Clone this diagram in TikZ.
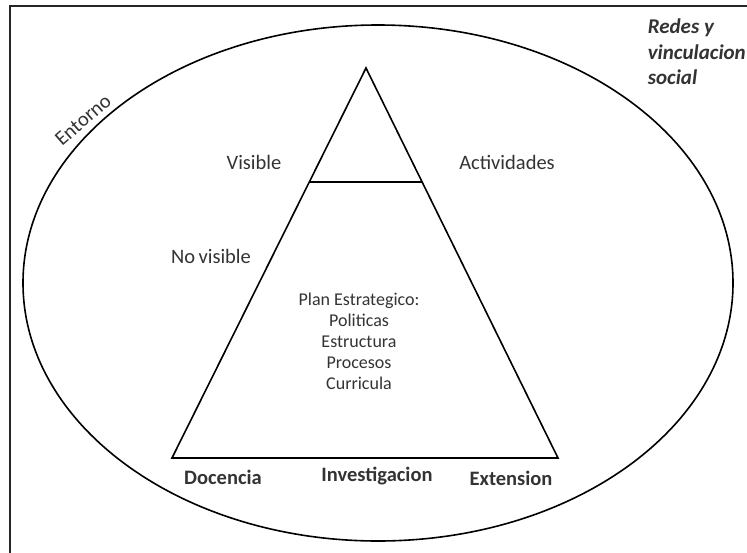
\documentclass[tikz,border=0pt]{standalone}
\usepackage{fontspec}
\setmainfont{Carlito}
\usetikzlibrary{positioning,calc}

\begin{document}
\begin{tikzpicture}[x=1pt, y=-1pt, line width=1.6pt,
	every node/.style={inner sep=0pt, text=black!80},
	label text/.style={font=\fontsize{20.5}{24}\selectfont},
	pillar/.style={font=\fontsize{20.5}{24}\selectfont\bfseries},
	plan text/.style={font=\fontsize{18}{21}\selectfont, align=center}]
\useasboundingbox (0,0) rectangle (747,552);
\clip (0,0) rectangle (747,552);
\draw[line width=2pt, black!85] (10,6) rectangle (780,590);
\draw (378,283) ellipse [x radius=355, y radius=258];
% triangle
\coordinate (apex) at (366,68);
\coordinate (base-left) at (172,458);
\coordinate (base-right) at (558,458);
\draw (apex) -- (base-left) -- (base-right) -- cycle;
\coordinate (cut-left) at ($(apex)!0.2923!(base-left)$);
\coordinate (cut-right) at ($(apex)!0.2923!(base-right)$);
\draw[line width=1.2pt] (cut-left) -- (cut-right);
% labels
\node[label text, rotate=41] 	(entorno)	at (83,120)		{Entorno};
\node[label text]				(visible)	at (254,162)	{Visible};
\node[label text]				(actividades) at (507,162)	{Actividades};
\node[label text]				(novisible)	at (211,256)	{No\,visible};
\node[plan text]				(plan)		at (359,341)	{Plan Estrategico:\\Politicas\\Estructura\\Procesos\\Curricula};
\node[pillar]					(docencia)	at (223,477)	{Docencia};
\node[pillar]					(investigacion) at (377,476) {Investigacion};
\node[pillar]					(extension)	at (511,478)	{Extension};
\node[font=\fontsize{21}{25.5}\selectfont\bfseries\itshape, align=left, anchor=north west]
								(redes)		at (647,18)		{Redes y\\vinculacion\\social};
\end{tikzpicture}
\end{document}
